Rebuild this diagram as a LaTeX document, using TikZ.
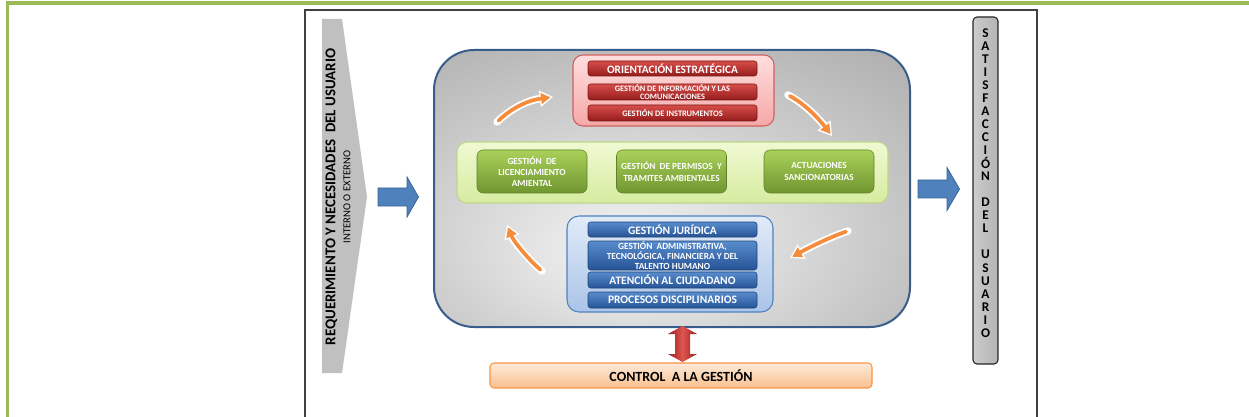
\documentclass[tikz,border=0pt]{standalone}
\usepackage{fontspec}
\setmainfont{Carlito}
\usetikzlibrary{arrows.meta}
\definecolor{frgreen}{HTML}{9BBB59}
\definecolor{frame}{HTML}{404040}
\definecolor{chev}{HTML}{C0C0C0}
\definecolor{coreborder}{HTML}{385D8A}
\definecolor{blarrow}{HTML}{4F81BD}
\definecolor{blarrowb}{HTML}{3A6596}
\definecolor{redpaleT}{RGB}{255,222,222}
\definecolor{redpaleB}{RGB}{246,168,168}
\definecolor{redpaleD}{RGB}{210,95,95}
\definecolor{redbarT}{RGB}{214,78,74}
\definecolor{redbarB}{RGB}{150,28,28}
\definecolor{grnpaleT}{RGB}{240,249,210}
\definecolor{grnpaleB}{RGB}{214,236,160}
\definecolor{grnpaleD}{RGB}{190,214,140}
\definecolor{grnboxT}{RGB}{170,208,90}
\definecolor{grnboxB}{RGB}{112,150,48}
\definecolor{blupaleT}{RGB}{225,235,248}
\definecolor{blupaleB}{RGB}{170,196,232}
\definecolor{blupaleD}{RGB}{79,129,189}
\definecolor{bluebarT}{RGB}{88,140,205}
\definecolor{bluebarB}{RGB}{38,84,150}
\definecolor{ctrlT}{RGB}{253,234,218}
\definecolor{ctrlB}{RGB}{250,192,143}
\definecolor{ctrlD}{RGB}{247,150,70}
\definecolor{arrorange}{RGB}{245,140,60}
\definecolor{dredL}{RGB}{150,30,30}
\definecolor{dredM}{RGB}{225,85,80}
\pgfdeclareradialshading{coreshade}{\pgfpoint{-5bp}{-12bp}}{%
  color(0bp)=(white!96!black); color(18bp)=(white!84!black);
  color(45bp)=(white!66!black); color(60bp)=(white!60!black); color(90bp)=(white!57!black)}
\tikzset{
  redpale/.style={rectangle, rounded corners=7.5pt, draw=redpaleD, line width=0.8pt, top color=redpaleT, bottom color=redpaleB},
  redbar/.style={rectangle, rounded corners=2pt, draw=redbarB!80!black, line width=0.4pt, top color=redbarT, bottom color=redbarB, text=white, font=\bfseries, minimum width=126.75pt, inner sep=0pt, align=center},
  grnpale/.style={rectangle, rounded corners=7.5pt, draw=grnpaleD, line width=0.8pt, top color=grnpaleT, bottom color=grnpaleB},
  grnbox/.style={rectangle, rounded corners=4.5pt, draw=grnboxB!85!black, line width=0.4pt, top color=grnboxT, bottom color=grnboxB, text=white, font=\fontsize{7}{8.4}\selectfont\bfseries, minimum width=82.5pt, minimum height=32.25pt, inner sep=0pt, align=center},
  blupale/.style={rectangle, rounded corners=9pt, draw=blupaleD, line width=0.8pt, top color=blupaleT, bottom color=blupaleB},
  bluebar/.style={rectangle, rounded corners=2pt, draw=bluebarB!80!black, line width=0.4pt, top color=bluebarT, bottom color=bluebarB, text=white, font=\bfseries, minimum width=126.75pt, inner sep=0pt, align=center},
  sat/.style={inner sep=0pt, font=\fontsize{10}{11}\selectfont\bfseries},
  cycw/.style={draw=white, line width=5.6pt, line cap=round, -{Triangle[length=10pt,width=12.5pt,line width=0pt]}},
  cyco/.style={draw=arrorange, line width=2.8pt, line cap=round, shorten >=2pt, shorten <=1.6pt, -{Triangle[length=7pt,width=8.5pt,line width=0pt]}},
  blockarrow/.style={fill=blarrow, draw=blarrowb, line width=0.6pt, line join=miter},
}
\begin{document}
\begin{tikzpicture}[x=0.75pt,y=-0.75pt]
\useasboundingbox[fill=white] (0,0) rectangle (1249,417);
% outer green frame
\draw[frgreen, line width=2.3pt] (7.5,417) -- (7.5,3) -- (1249,3);
% black frame
\draw[frame, line width=0.9pt] (305,417) -- (305,10) -- (1037,10) -- (1037,417);
% left chevron
\fill[chev] (322,19) -- (342,19) -- (367,197) -- (342,373) -- (322,373) -- cycle;
\node[rotate=90, font=\fontsize{11.2}{12}\selectfont\bfseries] (req) at (331.5,197) {REQUERIMIENTO Y NECESIDADES~~DEL USUARIO};
\node[rotate=90, font=\fontsize{8}{9}\selectfont] (int) at (347,197) {INTERNO O EXTERNO};
% left blue arrow
\draw[blockarrow] (378,188) -- (407,188) -- (407,177) -- (418.5,197) -- (407,217) -- (407,206) -- (378,206) -- cycle;
% core box
\node[rectangle, rounded corners=30pt, draw=coreborder, line width=1.5pt, shading=coreshade, minimum width=357pt, minimum height=207.75pt, inner sep=0pt] (core) at (672,188.5) {};
% red group
\node[redpale, minimum width=150.75pt, minimum height=53.25pt] (redg) at (673.5,90.5) {};
\node[redbar, minimum height=11.25pt, font=\fontsize{8.5}{9}\selectfont\bfseries] (r1) at (672.5,68.5) {ORIENTACIÓN ESTRATÉGICA};
\node[redbar, minimum height=12pt, font=\fontsize{6.2}{6.2}\selectfont\bfseries] (r2) at (672.5,92) {GESTIÓN DE INFORMACIÓN Y LAS\\COMUNICACIONES};
\node[redbar, minimum height=12pt, font=\fontsize{6.3}{7}\selectfont\bfseries] (r3) at (672.5,113) {GESTIÓN DE INSTRUMENTOS};
% green group
\node[grnpale, minimum width=323.25pt, minimum height=45.75pt] (grng) at (672.5,172.5) {};
\node[grnbox] (g1) at (532,171.5) {GESTIÓN~~DE\\LICENCIAMIENTO\\AMIENTAL};
\node[grnbox, font=\fontsize{7}{8.8}\selectfont\bfseries] (g2) at (671.5,171.5) {GESTIÓN~~DE PERMISOS~~Y\\TRAMITES AMBIENTALES};
\node[grnbox, font=\fontsize{7}{8.8}\selectfont\bfseries] (g3) at (819,171.5) {ACTUACIONES\\SANCIONATORIAS};
% blue group
\node[blupale, minimum width=154.5pt, minimum height=72pt] (blug) at (670,264) {};
\node[bluebar, minimum height=11.25pt, font=\fontsize{8.6}{9}\selectfont\bfseries] (b1) at (672.5,229.5) {GESTIÓN JURÍDICA};
\node[bluebar, minimum height=21.75pt, font=\fontsize{7}{7.5}\selectfont\bfseries] (b2) at (672.5,255.5) {GESTIÓN~~ADMINISTRATIVA,\\TECNOLÓGICA, FINANCIERA Y DEL\\TALENTO HUMANO};
\node[bluebar, minimum height=12pt, font=\fontsize{8.6}{9}\selectfont\bfseries] (b3) at (672.5,280) {ATENCIÓN AL CIUDADANO};
\node[bluebar, minimum height=12pt, font=\fontsize{8.6}{9}\selectfont\bfseries] (b4) at (672.5,300) {PROCESOS DISCIPLINARIOS};
% cycle arrows
\draw[cycw] (497,122) .. controls (514,106) and (530,100) .. (553,97);
\draw[cyco] (497,122) .. controls (514,106) and (530,100) .. (553,97);
\draw[cycw] (788,95) .. controls (805,104) and (819,119) .. (832,136);
\draw[cyco] (788,95) .. controls (805,104) and (819,119) .. (832,136);
\draw[cycw] (848,231) .. controls (830,237) and (808,248) .. (790,258);
\draw[cyco] (848,231) .. controls (830,237) and (808,248) .. (790,258);
\draw[cycw] (542,271) .. controls (530,261) and (514,242) .. (507,225);
\draw[cyco] (542,271) .. controls (530,261) and (514,242) .. (507,225);
% right blue arrow
\draw[blockarrow] (918,180) -- (947,180) -- (947,167.5) -- (959.5,189) -- (947,210.5) -- (947,198) -- (918,198) -- cycle;
% satisfaction bar
\node[rectangle, rounded corners=3pt, draw=black!85, line width=0.8pt, left color=black!20, right color=black!30, minimum width=18.75pt, minimum height=260.25pt, inner sep=0pt] (satbar) at (985.5,190.5) {};
\foreach \c [count=\i from 0] in {S,A,T,I,S,F,A,C,C,I,Ó,N,{},D,E,L,{},U,S,U,A,R,I,O}
  \node[sat] (s\i) at (985.5,33+\i*13.04) {\c};
% red double arrow
\shade[left color=dredL, right color=dredL, middle color=dredM] (682.5,326) -- (697,334) -- (690,334) -- (690,354) -- (697,354) -- (682.5,362) -- (668,354) -- (675,354) -- (675,334) -- (668,334) -- cycle;
% control box
\node[rectangle, rounded corners=3pt, draw=ctrlD, line width=0.8pt, top color=ctrlT, bottom color=ctrlB, minimum width=286.5pt, minimum height=18.75pt, inner sep=0pt, font=\fontsize{10.5}{11}\selectfont\bfseries] (ctrl) at (681,375.5) {CONTROL~~A LA GESTIÓN};
\end{tikzpicture}
\end{document}
